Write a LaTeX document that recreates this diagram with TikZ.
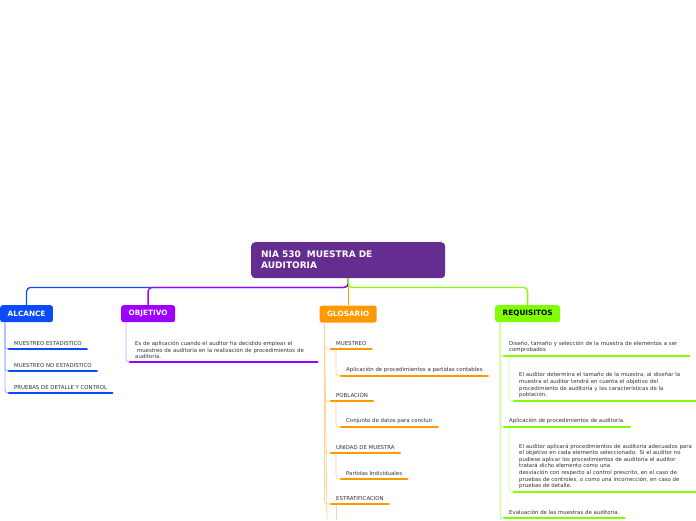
\documentclass[tikz,border=0pt]{standalone}
\usepackage{fontspec}
\setmainfont{DejaVu Sans}
\usetikzlibrary{positioning}

\definecolor{titulo}{RGB}{102,45,145}
\definecolor{azul}{RGB}{10,76,250}
\definecolor{azulc}{RGB}{150,175,255}
\definecolor{morado}{RGB}{156,0,255}
\definecolor{moradoc}{RGB}{215,160,255}
\definecolor{naranja}{RGB}{255,153,0}
\definecolor{naranjac}{RGB}{255,210,150}
\definecolor{verde}{RGB}{128,255,0}
\definecolor{verdec}{RGB}{200,255,150}
\definecolor{texto}{RGB}{51,51,51}

\begin{document}
\begin{tikzpicture}[x=1pt, y=-1pt,
        tema/.style={fill=titulo, rounded corners=4pt, anchor=north west, minimum height=36pt, text width=174pt, inner xsep=10pt, align=left, text=white, font=\fontsize{9}{11}\selectfont\bfseries},
        rama/.style={rounded corners=2.5pt, minimum height=17pt, inner xsep=7.5pt, text=white, font=\fontsize{7.3}{7.3}\selectfont\bfseries},
        hoja/.style={anchor=south west, inner xsep=5pt, inner ysep=3pt, align=left, text=texto, font=\fontsize{5.4}{6.6}\selectfont},
        brazo/.style={line width=1.3pt, rounded corners=4pt},
        guia/.style={line width=0.8pt, rounded corners=3pt},
        raya/.style={line width=2.6pt, line cap=round}
    ]
        \useasboundingbox[fill=white] (0,0) rectangle (696,520);

        % central topic
        \node[tema] (tit) at (251,242) {NIA 530\ \ MUESTRA DE\\AUDITORIA};
        \coordinate (bus) at ([yshift=-9pt]tit.south);

        % main topics
        \node[rama, fill=azul, anchor=north west] (alc) at (0,305) {ALCANCE};
        \node[rama, fill=morado, anchor=north west] (obj) at (121,305) {OBJETIVO};
        \node[rama, fill=naranja, below=27pt of tit] (glo) {GLOSARIO};
        \node[rama, fill=verde, anchor=north west, text=black] (req) at (495,305) {REQUISITOS};

        \draw[brazo, azul] (tit.south) -- (bus) -| (alc.north);
        \draw[brazo, morado] (tit.south) -- (bus) -| (obj.north);
        \draw[brazo, naranja] (tit.south) -- (glo.north);
        \draw[brazo, verde] (tit.south) -- (bus) -| (req.north);

        % ALCANCE
        \node[hoja] (a1) at (9,349) {MUESTREO ESTADISTICO};
        \node[hoja] (a2) at (9,371) {MUESTREO NO ESTADISTICO};
        \node[hoja] (a3) at (9,393) {PRUEBAS DE DETALLE Y CONTROL};
        \foreach \n in {a1,a2,a3} {
            \draw[guia, azulc] ([xshift=5pt]alc.south west) |- (\n.south west);
            \draw[raya, azul] (\n.south west) -- (\n.south east);
        }

        % OBJETIVO
        \node[hoja, text width=177pt] (o1) at (130,362) {Es de aplicación cuando el auditor ha decidido emplear el\\\ muestreo de auditoría en la realización de procedimientos de\\auditoría.};
        \draw[guia, moradoc] ([xshift=5pt]obj.south west) |- (o1.south west);
        \draw[raya, morado] (o1.south west) -- (o1.south east);

        % GLOSARIO
        \node[hoja] (g1) at (331,349) {MUESTREO};
        \node[hoja] (g1a) at (341,376) {Aplicación de procedimientos a partidas contables};
        \node[hoja] (g2) at (331,401) {POBLACIÓN};
        \node[hoja] (g2a) at (341,427) {Conjunto de datos para concluir};
        \node[hoja] (g3) at (331,453) {UNIDAD DE MUESTRA};
        \node[hoja] (g3a) at (341,479) {Partidas Individuales};
        \node[hoja] (g4) at (331,504) {ESTRATIFICACION};
        \coordinate (gfin) at (327,520);
        \coordinate (g4fin) at (336,520);
        \draw[guia, naranjac] ([xshift=5pt]glo.south west) -- (gfin);
        \foreach \n in {g1,g2,g3,g4} {
            \draw[guia, naranjac] ([xshift=5pt]glo.south west) |- (\n.south west);
        }
        \foreach \n/\m in {g1/g1a,g2/g2a,g3/g3a} {
            \draw[guia, naranjac] ([xshift=5pt]\n.south west) |- (\m.south west);
        }
        \draw[guia, naranjac] ([xshift=5pt]g4.south west) -- (g4fin);
        \foreach \n in {g1,g1a,g2,g2a,g3,g3a,g4} {
            \draw[raya, naranja] (\n.south west) -- (\n.south east);
        }

        % REQUISITOS
        \node[hoja, text width=175pt] (r1) at (504,356) {Diseño, tamaño y selección de la muestra de elementos a ser\\comprobados};
        \node[hoja, text width=176pt] (r1a) at (514,401) {El auditor determina el tamaño de la muestra, al diseñar la\\muestra el auditor tendrá en cuenta el objetivo del\\procedimiento de auditoría y las características de la\\población.};
        \node[hoja] (r2) at (504,427) {Aplicación de procedimientos de auditoria.};
        \node[hoja, text width=176pt] (r2a) at (514,492) {El auditor aplicará procedimientos de auditoría adecuados para\\el objetivo en cada elemento seleccionado. Si el auditor no\\pudiese aplicar los procedimientos de auditoría el auditor\\tratará dicho elemento como una\\desviación con respecto al control prescrito, en el caso de\\pruebas de controles, o como una incorrección, en caso de\\pruebas de detalle.};
        \node[hoja] (r3) at (504,518) {Evaluación de las muestras de auditoria.};
        \coordinate (rfin) at (500,520);
        \draw[guia, verdec] ([xshift=5pt]req.south west) -- (rfin);
        \foreach \n in {r1,r2,r3} {
            \draw[guia, verdec] ([xshift=5pt]req.south west) |- (\n.south west);
        }
        \foreach \n/\m in {r1/r1a,r2/r2a} {
            \draw[guia, verdec] ([xshift=5pt]\n.south west) |- (\m.south west);
        }
        \foreach \n in {r1,r1a,r2,r2a,r3} {
            \draw[raya, verde] (\n.south west) -- (\n.south east);
        }
    \end{tikzpicture}
\end{document}
